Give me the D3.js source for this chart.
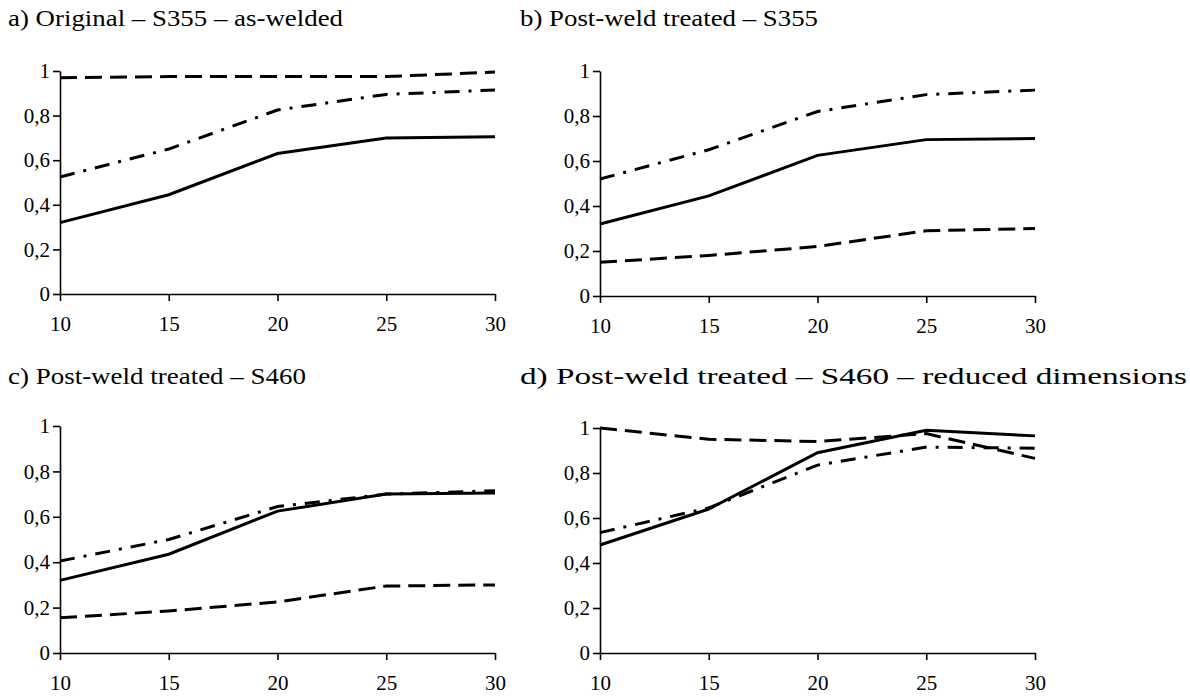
<!DOCTYPE html>
<html>
<head>
<meta charset="utf-8">
<script src="https://cdn.jsdelivr.net/npm/d3@7"></script>
<style>
  html, body { margin: 0; padding: 0; background: #fff; }
</style>
</head>
<body>
<svg id="chart" width="1190" height="697"></svg>
<script>
// x categories shared by all four panels
var xValues = [10, 15, 20, 25, 30];
var yTicks = [0, 0.2, 0.4, 0.6, 0.8, 1];

// panel titles
var titles = [
  'a) Original \u2013 S355 \u2013 as-welded',
  'b) Post-weld treated \u2013 S355',
  'c) Post-weld treated \u2013 S460',
  'd) Post-weld treated \u2013 S460 \u2013 reduced dimensions'
];

// values per panel: solid / dashed / dash-dot
var solidA   = [0.32, 0.445, 0.63, 0.70, 0.705];
var dashedA  = [0.97, 0.975, 0.975, 0.975, 0.995];
var dashDotA = [0.525, 0.65, 0.825, 0.895, 0.915];

var solidB   = [0.32, 0.445, 0.625, 0.695, 0.70];
var dashedB  = [0.15, 0.18, 0.22, 0.29, 0.30];
var dashDotB = [0.52, 0.65, 0.82, 0.895, 0.915];

var solidC   = [0.32, 0.435, 0.625, 0.70, 0.705];
var dashedC  = [0.155, 0.185, 0.225, 0.295, 0.30];
var dashDotC = [0.405, 0.50, 0.645, 0.70, 0.715];

var solidD   = [0.48, 0.64, 0.89, 0.99, 0.965];
var dashedD  = [1.0, 0.95, 0.94, 0.975, 0.865];
var dashDotD = [0.535, 0.645, 0.835, 0.915, 0.91];

var panelData = [
  [solidA, dashedA, dashDotA],
  [solidB, dashedB, dashDotB],
  [solidC, dashedC, dashDotC],
  [solidD, dashedD, dashDotD]
];

// line styles in the order solid, dashed, dash-dot
var dashes = [null, '17,8', '15,9,3,9'];
var FONT = "'Liberation Serif', 'Times New Roman', serif";

// panel frames (plot area in pixels), title position and width
var frames = [
  {x0: 60,  x1: 495,  y0: 294, y1: 71,  tx: 8,   ty: 26,  tw: 335},
  {x0: 600, x1: 1035, y0: 296, y1: 71,  tx: 520, ty: 26,  tw: 298},
  {x0: 60,  x1: 495,  y0: 653, y1: 426, tx: 8,   ty: 384, tw: 298},
  {x0: 600, x1: 1035, y0: 653, y1: 428, tx: 520, ty: 384, tw: 667}
];

var svg = d3.select('#chart');
var fmt = function(d){ return String(d).replace('.', ','); };

frames.forEach(function(f, i){
  var g = svg.append('g');

  var x = d3.scaleLinear().domain([10, 30]).range([f.x0, f.x1]);
  var y = d3.scaleLinear().domain([0, 1]).range([f.y0, f.y1]);

  // title
  g.append('text')
    .attr('x', f.tx).attr('y', f.ty)
    .attr('textLength', f.tw)
    .attr('lengthAdjust', 'spacingAndGlyphs')
    .style('font-family', FONT)
    .style('font-size', '24px')
    .style('fill', '#000')
    .text(titles[i]);

  // y axis
  var ya = g.append('g')
    .attr('transform', 'translate(' + f.x0 + ',0)')
    .call(d3.axisLeft(y).tickValues(yTicks).tickFormat(fmt).tickSize(7).tickSizeOuter(0).tickPadding(3));

  // x axis
  var xa = g.append('g')
    .attr('transform', 'translate(0,' + f.y0 + ')')
    .call(d3.axisBottom(x).tickValues(xValues).tickFormat(d3.format('d')).tickSize(7).tickSizeOuter(0).tickPadding(15));

  [ya, xa].forEach(function(a){
    a.selectAll('path, line').attr('stroke', '#000').attr('stroke-width', 1.6);
    a.selectAll('text')
      .style('font-family', FONT)
      .style('font-size', '21px')
      .style('fill', '#000');
  });

  var line = d3.line()
    .x(function(d, k){ return x(xValues[k]); })
    .y(function(d){ return y(d); });

  panelData[i].forEach(function(vals, s){
    g.append('path')
      .datum(vals)
      .attr('d', line)
      .attr('fill', 'none')
      .attr('stroke', '#000')
      .attr('stroke-width', 3)
      .attr('stroke-dasharray', dashes[s]);
  });
});
</script>
</body>
</html>
